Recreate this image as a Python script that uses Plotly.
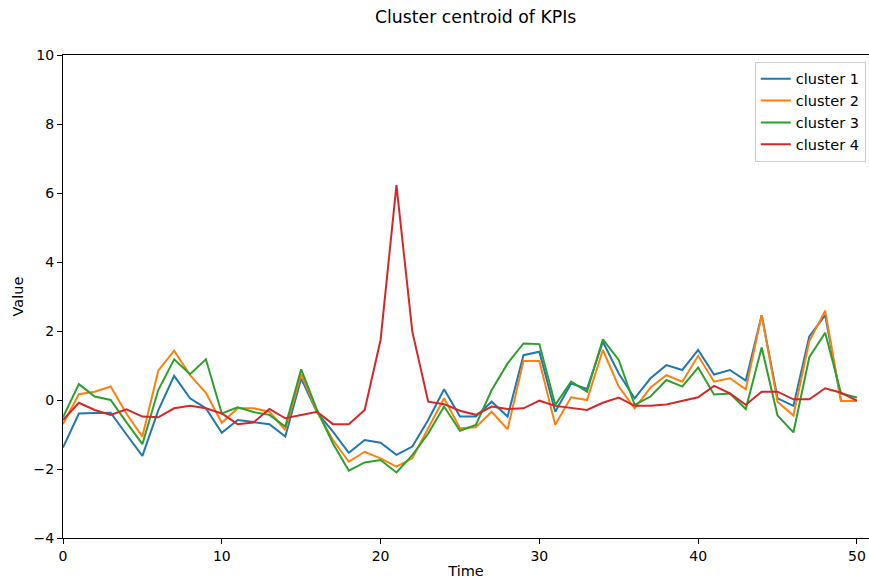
import plotly.graph_objects as go

time = list(range(51))

cluster_1 = [-1.38, -0.39, -0.38, -0.37, -1.0, -1.62, -0.3, 0.70, 0.05, -0.24,
             -0.95, -0.58, -0.64, -0.70, -1.06, 0.62, -0.36, -0.92, -1.53, -1.16,
             -1.24, -1.59, -1.35, -0.58, 0.31, -0.48, -0.48, -0.05, -0.48, 1.30,
             1.40, -0.34, 0.48, 0.32, 1.69, 0.77, 0.05, 0.63, 1.01, 0.87,
             1.45, 0.74, 0.87, 0.56, 2.46, 0.05, -0.17, 1.84, 2.46, -0.03, -0.03]

cluster_2 = [-0.70, 0.17, 0.24, 0.39, -0.40, -1.06, 0.85, 1.43, 0.72, 0.21,
             -0.66, -0.24, -0.24, -0.34, -0.87, 0.75, -0.34, -1.16, -1.79, -1.50,
             -1.69, -1.93, -1.69, -0.82, 0.05, -0.82, -0.79, -0.34, -0.85, 1.13,
             1.13, -0.72, 0.08, 0.0, 1.45, 0.39, -0.24, 0.36, 0.72, 0.53,
             1.28, 0.53, 0.63, 0.31, 2.46, -0.05, -0.45, 1.70, 2.59, -0.03, -0.03]

cluster_3 = [-0.50, 0.46, 0.10, 0.0, -0.65, -1.28, 0.29, 1.18, 0.75, 1.18,
             -0.39, -0.21, -0.35, -0.43, -0.77, 0.89, -0.29, -1.26, -2.05, -1.81,
             -1.74, -2.10, -1.60, -0.97, -0.19, -0.89, -0.72, 0.29, 1.06, 1.64,
             1.62, -0.14, 0.53, 0.24, 1.76, 1.16, -0.14, 0.10, 0.58, 0.39,
             0.94, 0.16, 0.19, -0.26, 1.52, -0.45, -0.94, 1.24, 1.95, 0.19, 0.07]

cluster_4 = [-0.58, -0.08, -0.29, -0.43, -0.27, -0.48, -0.50, -0.24, -0.17, -0.24,
             -0.39, -0.70, -0.65, -0.26, -0.53, -0.43, -0.34, -0.70, -0.70, -0.29,
             1.74, 6.23, 1.98, -0.05, -0.12, -0.31, -0.43, -0.19, -0.26, -0.24,
             -0.02, -0.17, -0.24, -0.29, -0.08, 0.07, -0.17, -0.17, -0.13, -0.02,
             0.08, 0.41, 0.19, -0.14, 0.24, 0.24, 0.02, 0.02, 0.34, 0.21, -0.02]

names = ["cluster 1", "cluster 2", "cluster 3", "cluster 4"]
colors = ["#1f77b4", "#ff7f0e", "#2ca02c", "#d62728"]
series = [cluster_1, cluster_2, cluster_3, cluster_4]

x_ticks = [0, 10, 20, 30, 40, 50]
y_ticks = [-4, -2, 0, 2, 4, 6, 8, 10]

fig = go.Figure()
for name, color, ys in zip(names, colors, series):
    fig.add_trace(go.Scatter(x=time, y=ys, mode="lines", name=name,
                             line=dict(color=color, width=2)))

font_family = "DejaVu Sans"
fig.update_layout(
    width=869, height=585,
    margin=dict(l=63, r=0, t=55, b=47),
    paper_bgcolor="white", plot_bgcolor="white",
    font=dict(family=font_family, size=14, color="black"),
    showlegend=True,
    legend=dict(x=0.996, y=0.986, xanchor="right", yanchor="top",
                bordercolor="#cccccc", borderwidth=1, bgcolor="white",
                font=dict(size=14.5), tracegroupgap=0),
    annotations=[dict(text="Cluster centroid of KPIs", x=0.512,
                      y=1 + (55 - 17) / 483, yanchor="middle",
                      xref="paper", yref="paper", showarrow=False,
                      font=dict(size=17.3, family=font_family))],
)

fig.update_xaxes(range=[0, 50.76], tickvals=x_ticks, ticks="outside", ticklen=5,
                 tickwidth=1, tickcolor="black", showline=True, linecolor="black",
                 linewidth=1, mirror=True, showgrid=False, zeroline=False,
                 title=dict(text="Time", standoff=3, font=dict(size=14.5)))
fig.update_yaxes(range=[-4, 10], tickvals=y_ticks, ticks="outside", ticklen=5,
                 tickwidth=1, tickcolor="black", showline=True, linecolor="black",
                 linewidth=1, mirror=False, showgrid=False, zeroline=False,
                 title=dict(text="Value", standoff=6, font=dict(size=14.5)))

fig.write_html("out.html")
